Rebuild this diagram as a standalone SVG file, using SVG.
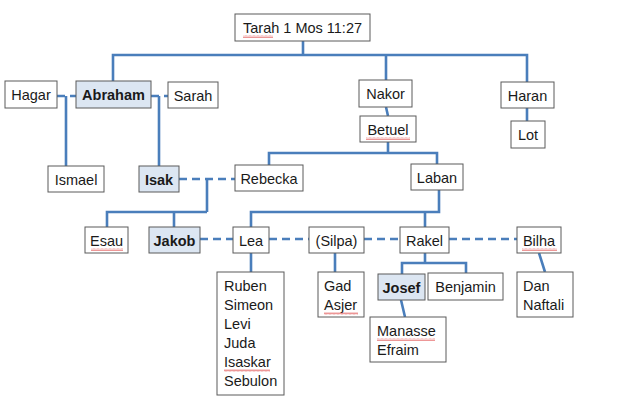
<svg xmlns="http://www.w3.org/2000/svg" width="640" height="412" viewBox="0 0 640 412">
<defs>
<pattern id="sq" width="4" height="3" patternUnits="userSpaceOnUse">
<path d="M0 2.5 L1 0.5 L2 2.5 L3 0.5 L4 2.5" fill="none" stroke="#e05050" stroke-width="0.6"/>
</pattern>
</defs>
<style>
.box{fill:#fff;stroke:#5a5a5a;stroke-width:1}
.hl{fill:#dce6f2}
text{font-family:"Liberation Sans",Arial,sans-serif;font-size:14.5px;fill:#1a1a1a}
.c{text-anchor:middle}
.b{font-weight:bold}
.ln{fill:none;stroke:#4a7ebb;stroke-width:2.6}
.d{stroke-dasharray:8 5}
.sq{fill:url(#sq)}
</style>
<rect width="640" height="412" fill="#fff"/>
<g id="connectors">
<path class="ln" d="M303 41V55M113 81V55H527V82M386 55V80"/>
<path class="ln d" d="M57 96H76M151 96H168"/>
<path class="ln" d="M66 96V166M159 96V166"/>
<path class="ln" d="M386 107L388 116M527 108V121"/>
<path class="ln" d="M388 142V153M269 165V153H437V164"/>
<path class="ln d" d="M179 179H235"/>
<path class="ln" d="M207 179V212M107 227V212H207M174 212V227"/>
<path class="ln" d="M439 190V212H251V227M425 212V227"/>
<path class="ln d" d="M200 239H233M269 239H309M364 239H400M449 239H517"/>
<path class="ln" d="M251 253V272M335 253V272M425 253V263M402 274V263H466V273"/>
<path class="ln" d="M401 300L405 317M539 253L545 272"/>
</g>
<g id="tarah"><rect class="box" x="235" y="14" width="135" height="27"/><text class="c" x="302.5" y="33">Tarah 1 Mos 11:27</text><rect class="sq" x="243" y="35" width="30" height="3"/></g>
<g id="hagar"><rect class="box" x="5" y="81" width="52" height="27"/><text class="c" x="31" y="100">Hagar</text></g>
<g id="abraham"><rect class="box hl" x="76" y="81" width="75" height="27"/><text class="c b" x="113.5" y="100">Abraham</text></g>
<g id="sarah"><rect class="box" x="168" y="82" width="50" height="26"/><text class="c" x="193" y="100.5">Sarah</text></g>
<g id="nakor"><rect class="box" x="359" y="80" width="53" height="27"/><text class="c" x="385.5" y="99">Nakor</text></g>
<g id="haran"><rect class="box" x="501" y="82" width="53" height="26"/><text class="c" x="527.5" y="100.5">Haran</text></g>
<g id="betuel"><rect class="box" x="360" y="116" width="56" height="26"/><text class="c" x="388" y="134.5">Betuel</text><rect class="sq" x="366" y="137" width="44" height="3"/></g>
<g id="lot"><rect class="box" x="511" y="121" width="34" height="27"/><text class="c" x="528" y="140">Lot</text></g>
<g id="ismael"><rect class="box" x="48" y="166" width="56" height="26"/><text class="c" x="76" y="184.5">Ismael</text></g>
<g id="isak"><rect class="box hl" x="139" y="166" width="40" height="26"/><text class="c b" x="159" y="184.5">Isak</text></g>
<g id="rebecka"><rect class="box" x="235" y="165" width="68" height="26"/><text class="c" x="269" y="183.5">Rebecka</text></g>
<g id="laban"><rect class="box" x="411" y="164" width="52" height="26"/><text class="c" x="437" y="182.5">Laban</text></g>
<g id="esau"><rect class="box" x="85" y="227" width="43" height="26"/><text class="c" x="106.5" y="245.5">Esau</text><rect class="sq" x="91" y="248" width="32" height="3"/></g>
<g id="jakob"><rect class="box hl" x="149" y="227" width="51" height="26"/><text class="c b" x="174.5" y="245.5">Jakob</text></g>
<g id="lea"><rect class="box" x="233" y="227" width="36" height="26"/><text class="c" x="251" y="245.5">Lea</text></g>
<g id="silpa"><rect class="box" x="309" y="227" width="55" height="26"/><text class="c" x="336.5" y="245.5">(Silpa)</text></g>
<g id="rakel"><rect class="box" x="400" y="227" width="49" height="26"/><text class="c" x="424.5" y="245.5">Rakel</text></g>
<g id="bilha"><rect class="box" x="517" y="227" width="44" height="26"/><text class="c" x="539" y="245.5">Bilha</text><rect class="sq" x="522" y="248" width="35" height="3"/></g>
<g id="lea-sons"><rect class="box" x="217" y="272" width="67" height="123"/>
<text x="224" y="291">Ruben</text><text x="224" y="310">Simeon</text><text x="224" y="329">Levi</text><text x="224" y="348">Juda</text><text x="224" y="367">Isaskar</text><text x="224" y="386">Sebulon</text><rect class="sq" x="224" y="369" width="46" height="3"/></g>
<g id="silpa-sons"><rect class="box" x="318" y="272" width="46" height="45"/><text x="324" y="291">Gad</text><text x="324" y="310">Asjer</text><rect class="sq" x="324" y="312" width="34" height="3"/></g>
<g id="josef"><rect class="box hl" x="378" y="274" width="47" height="26"/><text class="c b" x="401.5" y="292.5">Josef</text></g>
<g id="benjamin"><rect class="box" x="428" y="273" width="75" height="27"/><text class="c" x="465.5" y="292">Benjamin</text></g>
<g id="josef-sons"><rect class="box" x="370" y="317" width="76" height="45"/><text x="377" y="336">Manasse</text><text x="377" y="355">Efraim</text><rect class="sq" x="377" y="338" width="58" height="3"/></g>
<g id="bilha-sons"><rect class="box" x="517" y="272" width="56" height="45"/><text x="523" y="291">Dan</text><text x="523" y="310">Naftali</text></g>
</svg>
